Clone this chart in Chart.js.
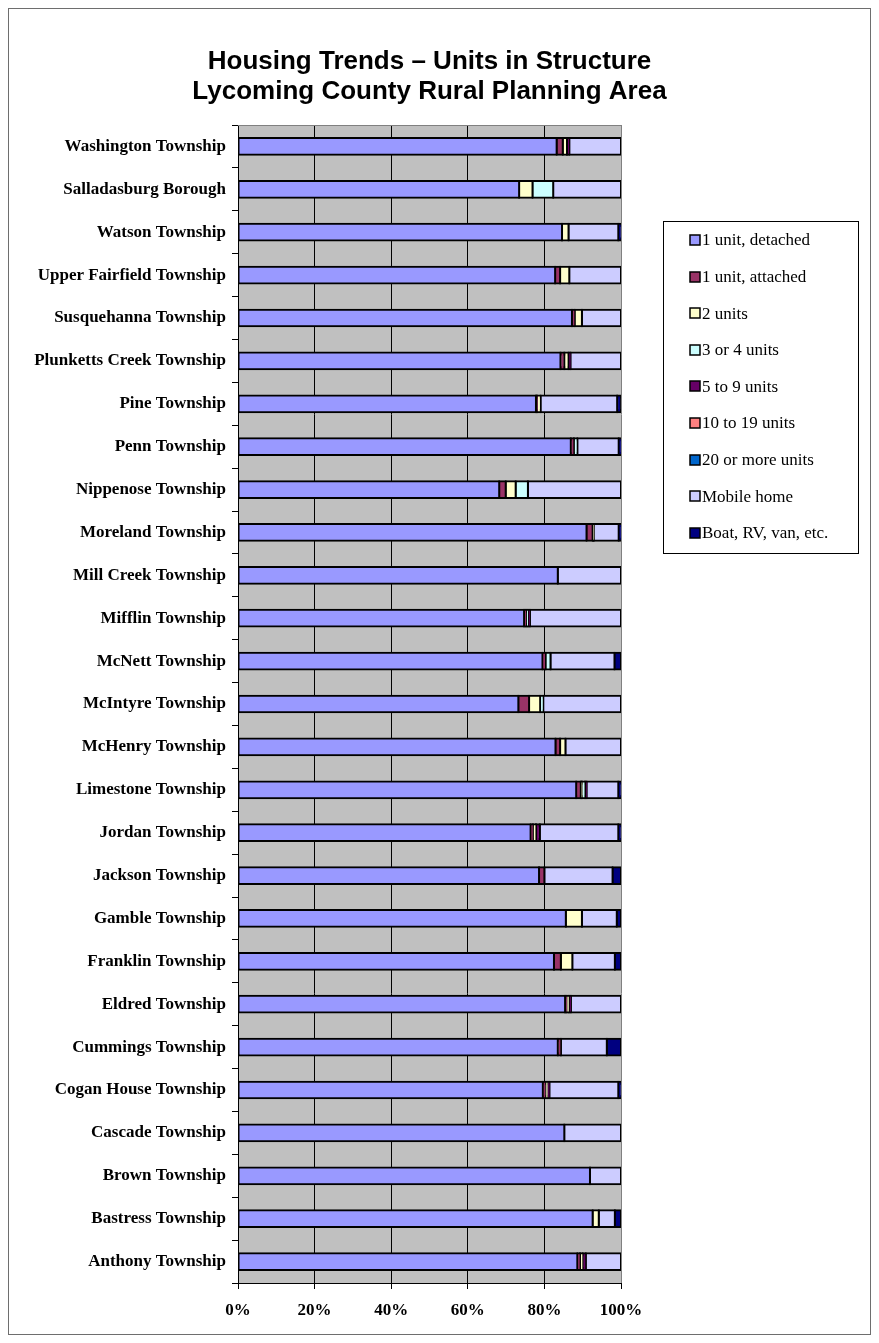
<!DOCTYPE html>
<html>
<head>
<meta charset="utf-8">
<script src="https://cdn.jsdelivr.net/npm/chart.js@4"></script>
<style>
  html, body { margin: 0; padding: 0; background: #ffffff; }
  canvas { display: block; }
</style>
</head>
<body>
<canvas id="chart" width="879" height="1343"></canvas>
<script>
// Municipalities, top to bottom
const townships = [
  'Washington Township', 'Salladasburg Borough', 'Watson Township', 'Upper Fairfield Township',
  'Susquehanna Township', 'Plunketts Creek Township', 'Pine Township', 'Penn Township',
  'Nippenose Township', 'Moreland Township', 'Mill Creek Township', 'Mifflin Township',
  'McNett Township', 'McIntyre Township', 'McHenry Township', 'Limestone Township',
  'Jordan Township', 'Jackson Township', 'Gamble Township', 'Franklin Township',
  'Eldred Township', 'Cummings Township', 'Cogan House Township', 'Cascade Township',
  'Brown Township', 'Bastress Township', 'Anthony Township'
];

// Share of housing units (%) by units in structure
const unitDetached = [83.2, 73.4, 84.6, 82.8, 87.2, 84.2, 77.8, 86.9, 68.2, 91.0, 83.5, 74.7, 79.5, 73.2, 82.9, 88.3, 76.4, 78.6, 85.6, 82.5, 85.4, 83.5, 79.6, 85.2, 91.9, 92.6, 88.6];
const unitAttached = [1.6, 0, 0, 1.3, 0.7, 1.0, 0.3, 0.8, 1.7, 1.6, 0, 0.5, 0.8, 2.8, 1.2, 1.2, 0.6, 1.4, 0, 1.8, 0.4, 0.8, 0.7, 0, 0, 0, 0.7];
const twoUnits     = [1.1, 3.5, 1.7, 2.4, 1.9, 1.1, 0.9, 0, 2.6, 0.3, 0, 0, 0, 2.9, 1.4, 0.3, 0.8, 0, 4.2, 3.0, 0.6, 0, 0.5, 0, 0, 1.6, 0.7];
const threeFour    = [0, 5.4, 0, 0, 0, 0, 0, 0.9, 3.2, 0, 0, 0.5, 1.3, 0.8, 0, 0.8, 0, 0, 0, 0, 0, 0, 0, 0, 0, 0, 0];
const fiveNine     = [0.6, 0, 0, 0, 0, 0.5, 0, 0, 0, 0, 0, 0.5, 0, 0, 0, 0.4, 1.0, 0, 0, 0, 0.5, 0, 0.5, 0, 0, 0, 0.8];
const tenNineteen  = [0, 0, 0, 0, 0, 0, 0, 0, 0, 0, 0, 0, 0, 0, 0, 0, 0, 0, 0, 0, 0, 0, 0, 0, 0, 0, 0];
const twentyPlus   = [0, 0, 0, 0, 0, 0, 0, 0, 0, 0, 0, 0, 0, 0, 0, 0, 0, 0, 0, 0, 0, 0, 0, 0, 0, 0, 0];
const mobileHome   = [13.5, 17.7, 13.0, 13.5, 10.2, 13.2, 20.0, 10.8, 24.3, 6.5, 16.5, 23.8, 16.7, 20.3, 14.5, 8.3, 20.5, 17.8, 9.1, 11.1, 13.1, 12.0, 18.0, 14.8, 8.1, 4.2, 9.2];
const boatRvVan    = [0, 0, 0.7, 0, 0, 0, 1.0, 0.6, 0, 0.6, 0, 0, 1.7, 0, 0, 0.7, 0.7, 2.2, 1.1, 1.6, 0, 3.7, 0.7, 0, 0, 1.6, 0];

const seriesNames = ['1 unit, detached', '1 unit, attached', '2 units', '3 or 4 units', '5 to 9 units',
  '10 to 19 units', '20 or more units', 'Mobile home', 'Boat, RV, van, etc.'];
const seriesValues = [unitDetached, unitAttached, twoUnits, threeFour, fiveNine, tenNineteen, twentyPlus, mobileHome, boatRvVan];
const seriesColors = ['#9999FF', '#993366', '#FFFFCC', '#CCFFFF', '#660066', '#FF8080', '#0066CC', '#CCCCFF', '#000080'];

const xTicks = [0, 20, 40, 60, 80, 100];
const titleLines = ['Housing Trends \u2013 Units in Structure', 'Lycoming County Rural Planning Area'];

const SERIF = "'Liberation Serif', 'Times New Roman', serif";
const SANS = "'Liberation Sans', Arial, sans-serif";

const datasets = seriesNames.map((name, i) => ({
  label: name,
  // empty shares are left out so no sliver is drawn for them
  data: seriesValues[i].map(v => (v === 0 ? null : v)),
  backgroundColor: seriesColors[i],
  borderColor: '#000000',
  borderWidth: 2,
  borderSkipped: false,
  inflateAmount: 1,
  categoryPercentage: 1,
  barPercentage: 0.39
}));

// gray plot area, frame and outer border
const frame = {
  id: 'frame',
  beforeDraw(chart) {
    const { ctx, chartArea: a } = chart;
    ctx.save();
    ctx.fillStyle = '#ffffff';
    ctx.fillRect(0, 0, chart.width, chart.height);
    ctx.fillStyle = '#C0C0C0';
    ctx.fillRect(a.left, a.top, a.right - a.left, a.bottom - a.top);
    ctx.restore();
  },
  afterDraw(chart) {
    const { ctx, chartArea: a } = chart;
    ctx.save();
    ctx.strokeStyle = '#808080';
    ctx.lineWidth = 1;
    ctx.beginPath();
    ctx.moveTo(a.left, Math.round(a.top) + 0.5);
    ctx.lineTo(a.right, Math.round(a.top) + 0.5);
    ctx.stroke();
    ctx.strokeStyle = '#6e6e6e';
    ctx.strokeRect(8.5, 8.5, 862, 1326);
    ctx.restore();
  }
};

// two-line heading centred over the plot
const heading = {
  id: 'heading',
  afterDraw(chart) {
    const { ctx, chartArea: a } = chart;
    const cx = (a.left + a.right) / 2;
    ctx.save();
    ctx.fillStyle = '#000000';
    ctx.font = 'bold 26px ' + SANS;
    ctx.textAlign = 'center';
    ctx.textBaseline = 'middle';
    titleLines.forEach((t, i) => ctx.fillText(t, cx, 62 + i * 30));
    ctx.restore();
  }
};

// boxed key to the right of the plot
const key = {
  id: 'key',
  afterDraw(chart) {
    const { ctx } = chart;
    const box = { x: 663.5, y: 221.5, w: 195, h: 332 };
    ctx.save();
    ctx.fillStyle = '#ffffff';
    ctx.fillRect(box.x, box.y, box.w, box.h);
    ctx.strokeStyle = '#000000';
    ctx.lineWidth = 1;
    ctx.strokeRect(box.x, box.y, box.w, box.h);
    ctx.font = '17px ' + SERIF;
    ctx.textBaseline = 'middle';
    ctx.textAlign = 'left';
    chart.data.datasets.forEach((ds, i) => {
      const cy = 240 + i * 36.6;
      ctx.fillStyle = ds.backgroundColor;
      ctx.fillRect(690, Math.round(cy) - 5, 10, 10);
      ctx.strokeStyle = '#000000';
      ctx.lineWidth = 1.5;
      ctx.strokeRect(690, Math.round(cy) - 5, 10, 10);
      ctx.fillStyle = '#000000';
      ctx.fillText(ds.label, 702, cy + 1);
    });
    ctx.restore();
  }
};

new Chart(document.getElementById('chart'), {
  type: 'bar',
  data: { labels: townships, datasets },
  plugins: [frame, heading, key],
  options: {
    indexAxis: 'y',
    responsive: false,
    animation: false,
    devicePixelRatio: 1,
    layout: { padding: { left: 0, right: 258, top: 125, bottom: 20 } },
    plugins: {
      legend: { display: false },
      title: { display: false },
      tooltip: { enabled: false }
    },
    scales: {
      x: {
        stacked: true,
        min: 0,
        max: 100,
        afterBuildTicks(scale) { scale.ticks = xTicks.map(v => ({ value: v })); },
        afterFit(scale) { scale.height = 40; },
        ticks: {
          callback: v => v + '%',
          color: '#000000',
          padding: 11,
          maxRotation: 0,
          font: { family: SERIF, size: 17, weight: 'bold' }
        },
        grid: {
          color: ctx => (ctx.tick && ctx.tick.value === 100 ? '#808080' : '#000000'),
          tickColor: '#000000',
          lineWidth: 1,
          tickLength: 6
        },
        border: { display: true, color: '#000000', width: 1 }
      },
      y: {
        stacked: true,
        afterFit(scale) { scale.width = 238; },
        ticks: {
          color: '#000000',
          padding: 6,
          autoSkip: false,
          font: { family: SERIF, size: 17, weight: 'bold' }
        },
        grid: {
          offset: true,
          drawOnChartArea: false,
          color: '#000000',
          tickLength: 6
        },
        border: { display: true, color: '#000000', width: 1 }
      }
    }
  }
});
</script>
</body>
</html>
